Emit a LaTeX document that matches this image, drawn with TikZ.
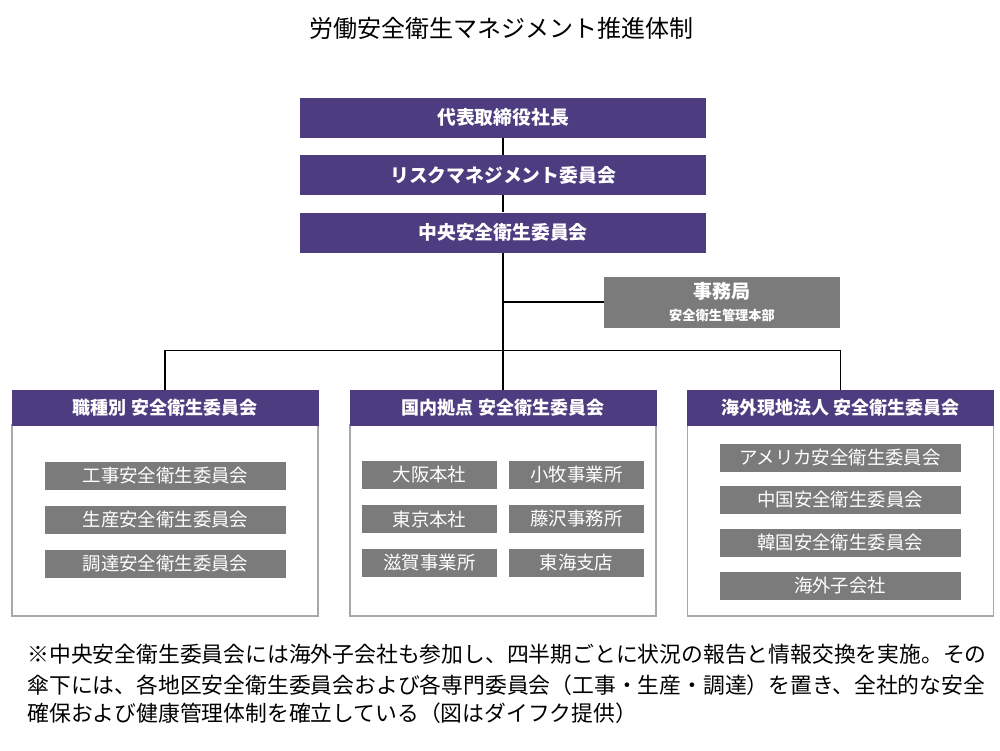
\documentclass[tikz,border=0pt]{standalone}
\usepackage{fontspec}
\setmainfont{Noto Sans CJK JP}
\usepackage{xcolor}
\definecolor{kbox}{HTML}{4D3D80}
\definecolor{kitem}{HTML}{7B7B7B}
\definecolor{kframe}{HTML}{A8A8A8}

\begin{document}
\begin{tikzpicture}[x=0.5pt,y=-0.5pt,
	topbox/.style={rectangle,fill=kbox,text=white,font=\bfseries\fontsize{9.4pt}{11pt}\selectfont,minimum width=203pt,minimum height=20pt,inner sep=0pt},
	headbox/.style={rectangle,fill=kbox,draw=kbox,text=white,font=\bfseries\fontsize{9pt}{11pt}\selectfont,minimum width=153pt,minimum height=17.5pt,inner sep=0pt},
	panel/.style={rectangle,draw=kframe,line width=0.6pt,minimum width=153pt,minimum height=95.5pt,inner sep=0pt},
	item/.style={rectangle,fill=kitem,text=white,font=\fontsize{9.2pt}{11pt}\selectfont,minimum height=14pt,inner sep=0pt},
	wide/.style={item,minimum width=120.5pt},
	narrow/.style={item,minimum width=67.5pt},
	note/.style={anchor=west,inner sep=0pt,font=\fontsize{10.9pt}{13pt}\selectfont},
	link/.style={line width=0.8pt}]
	\useasboundingbox (0,0) rectangle (1000,750);
	\node (title) at (501,28) [font=\fontsize{12pt}{14pt}\selectfont] {労働安全衛生マネジメント推進体制};
	% top of the chart
	\node (ceo) at (503,117.5) [topbox] {代表取締役社長};
	\node (risk) at (503,175) [topbox] {リスクマネジメント委員会};
	\node (central) at (503,232.5) [topbox] {中央安全衛生委員会};
	\node (office) at (722,302) [rectangle,fill=kitem,text=white,minimum width=118pt,minimum height=25.5pt,inner sep=0pt,align=center] {{\bfseries\fontsize{9.5pt}{11pt}\selectfont 事務局}\\[-1pt]{\bfseries\fontsize{6.6pt}{8pt}\selectfont 安全衛生管理本部}};
	\coordinate (bus) at (503,350.5);
	% three panels
	\node (bodyA) at (165,520.5) [panel] {};
	\node (bodyB) at (503,520.5) [panel] {};
	\node (bodyC) at (840.5,520.5) [panel] {};
	\node (hdA) at (165,407.5) [headbox] {職種別 安全衛生委員会};
	\node (hdB) at (503,407.5) [headbox] {国内拠点 安全衛生委員会};
	\node (hdC) at (840.5,407.5) [headbox] {海外現地法人 安全衛生委員会};
	% left panel
	\node (kouji) at (165.5,475.5) [wide] {工事安全衛生委員会};
	\node (seisan) at (165.5,519.5) [wide] {生産安全衛生委員会};
	\node (chotatsu) at (165.5,563.5) [wide] {調達安全衛生委員会};
	% middle panel
	\node (osaka) at (429.5,475) [narrow] {大阪本社};
	\node (tokyo) at (429.5,519) [narrow] {東京本社};
	\node (shiga) at (429.5,563) [narrow] {滋賀事業所};
	\node (komaki) at (576.5,475) [narrow] {小牧事業所};
	\node (fujisawa) at (576.5,519) [narrow] {藤沢事務所};
	\node (tokai) at (576.5,563) [narrow] {東海支店};
	% right panel
	\node (usa) at (840,457.5) [wide] {アメリカ安全衛生委員会};
	\node (china) at (840,500) [wide] {中国安全衛生委員会};
	\node (korea) at (840,543) [wide] {韓国安全衛生委員会};
	\node (subs) at (840,585.5) [wide] {海外子会社};
	% connectors
	\draw [link] (ceo) -- (risk);
	\draw [link] (risk) -- (central);
	\draw [link] (central) -- (hdB);
	\draw [link] (central.south |- office.west) -- (office.west);
	\draw [link] (hdA.north) -- (hdA.north |- bus) -- (hdC.north |- bus) -- (hdC.north);
	% footnote
	\node (noteA) at (27,654) [note] {※中央安全衛生委員会には海外子会社も参加し、四半期ごとに状況の報告と情報交換を実施。その};
	\node (noteB) at (27,685) [note] {傘下には、各地区安全衛生委員会および各専門委員会（工事・生産・調達）を置き、全社的な安全};
	\node (noteC) at (27,713) [note] {確保および健康管理体制を確立している（図はダイフク提供）};
\end{tikzpicture}
\end{document}
